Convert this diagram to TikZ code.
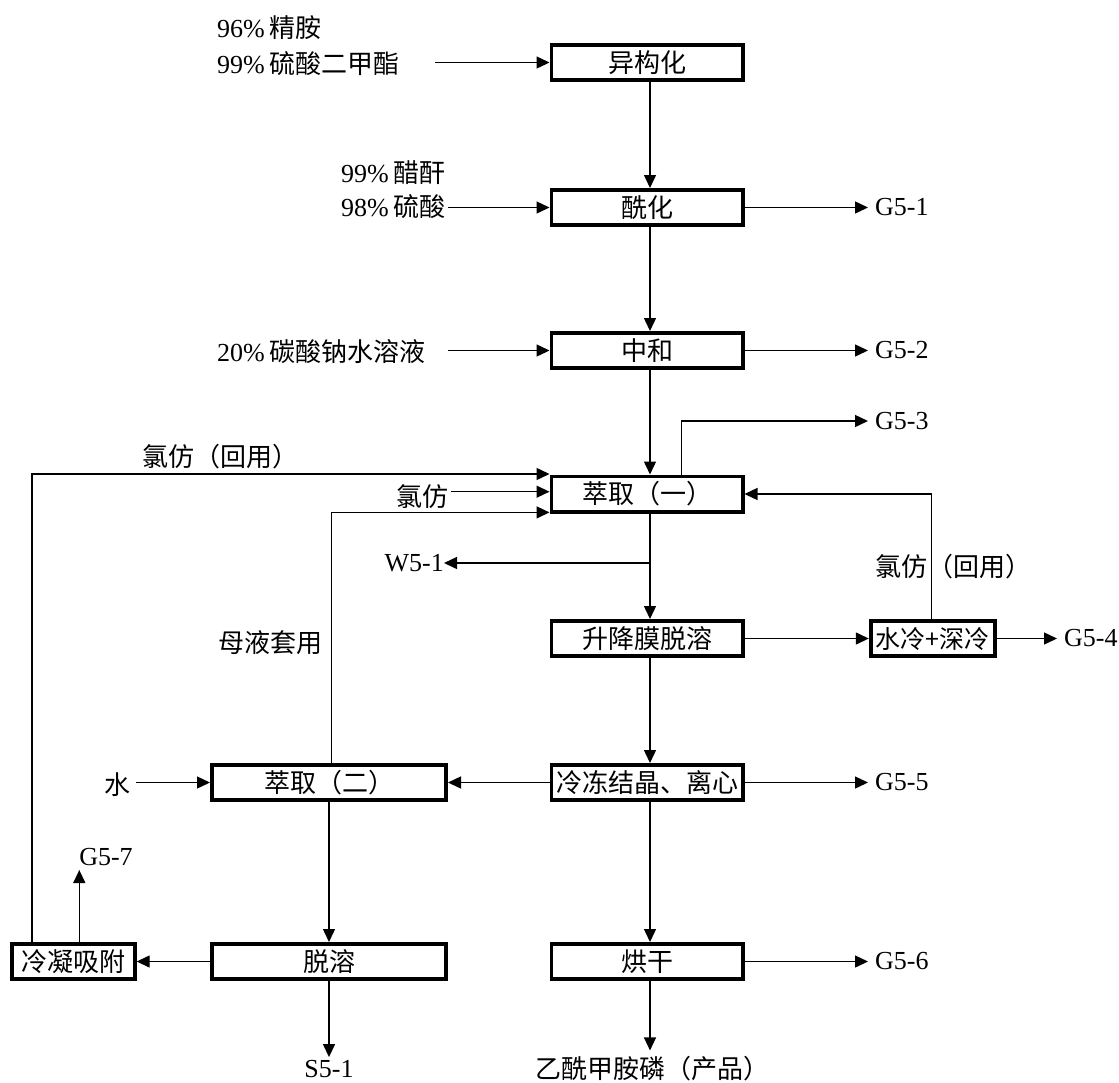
\documentclass[tikz,border=0pt]{standalone}
\usepackage{fontspec}
\setmainfont{Liberation Serif}
\newfontfamily\cjk{Noto Sans CJK SC}
\newcommand{\zhs}[1]{{\cjk\fontsize{26}{28}\selectfont #1}}
\usetikzlibrary{arrows.meta}
\begin{document}
\begin{tikzpicture}[x=1pt,y=-1pt,
 box/.style={draw,line width=3.8pt,minimum height=35.2pt,inner sep=0pt,font=\cjk\fontsize{26}{28}\selectfont},
 mainbox/.style={box,minimum width=191.2pt},
 lbl/.style={inner sep=0pt,font=\fontsize{26}{28}\selectfont},
 arr/.style={line width=1.4pt,-{Triangle[length=13pt,width=12pt]}},
 gout/.style={arr,shorten >=7pt}]
\useasboundingbox (0,0) rectangle (1119,1082);

% process boxes
\node[mainbox] (a) at (647,62.5) {异构化};
\node[mainbox] (b) at (647,207.5) {酰化};
\node[mainbox] (c) at (647,350.5) {中和};
\node[mainbox] (d) at (647,494) {萃取（一）};
\node[mainbox] (e) at (647,638.5) {升降膜脱溶};
\node[mainbox] (f) at (647,782.5) {冷冻结晶、离心};
\node[mainbox] (g) at (647,961.5) {烘干};
\node[box,minimum width=234.2pt] (h) at (329,782.5) {萃取（二）};
\node[box,minimum width=234.2pt] (i) at (329,961.5) {脱溶};
\node[box,minimum width=123.2pt] (j) at (73.2,961.5) {冷凝吸附};
\node[box,minimum width=124.2pt,font=\cjk\fontsize{25}{28}\selectfont] (k) at (932.8,638.5) {水冷+深冷};

% labels
\node[lbl,anchor=west] (t1) at (217,28) {96\%\,\zhs{精胺}};
\node[lbl,anchor=west] (t2) at (217,64) {99\%\,\zhs{硫酸二甲酯}};
\node[lbl,anchor=west] (t3) at (341,172.5) {99\%\,\zhs{醋酐}};
\node[lbl,anchor=west] (t4) at (341,207) {98\%\,\zhs{硫酸}};
\node[lbl,anchor=west] (t5) at (217,352) {20\%\,\zhs{碳酸钠水溶液}};
\node[lbl,anchor=west] (g1) at (875,207.5) {G5-1};
\node[lbl,anchor=west] (g2) at (875,350.5) {G5-2};
\node[lbl,anchor=west] (g3) at (875,421) {G5-3};
\node[lbl,anchor=west] (g4) at (1064,638.5) {G5-4};
\node[lbl,anchor=west] (g5) at (875,782.5) {G5-5};
\node[lbl,anchor=west] (g6) at (875,961.5) {G5-6};
\node[lbl] (g7) at (106,857) {G5-7};
\node[lbl,anchor=west] (r1) at (142,457) {\zhs{氯仿（回用）}};
\node[lbl,anchor=west] (r2) at (396,497) {\zhs{氯仿}};
\node[lbl,anchor=west] (r3) at (218,643) {\zhs{母液套用}};
\node[lbl,anchor=east] (w1) at (444,563) {W5-1};
\node[lbl,anchor=west] (r4) at (875,567) {\zhs{氯仿（回用）}};
\node[lbl,anchor=east] (sw) at (131,785) {\zhs{水}};
\node[lbl] (s1) at (329,1069) {S5-1};
\node[lbl] (p1) at (652,1069) {\zhs{乙酰甲胺磷（产品）}};

% helper coordinates
\coordinate (mx) at (650,0);
\coordinate (s2) at (435,0);
\coordinate (s4) at ([xshift=3pt]t4.east);
\coordinate (s5) at (447.5,0);
\coordinate (sr2) at ([xshift=3pt]r2.east);
\coordinate (xg3) at (681.5,0);
\coordinate (xl) at (32,0);
\coordinate (xm) at (331.4,0);
\coordinate (xsw) at (136.4,0);
\coordinate (tg7) at (79.3,870);
\coordinate (xr) at (931.5,0);
\coordinate (d1) at ([yshift=20pt]d.west);
\coordinate (d2) at ([yshift=2.3pt]d.west);
\coordinate (d3) at ([yshift=-18.4pt]d.west);

% main column
\draw[arr] (a.south -| mx) -- (b.north -| mx);
\draw[arr] (b.south -| mx) -- (c.north -| mx);
\draw[arr] (c.south -| mx) -- (d.north -| mx);
\draw[arr] (d.south -| mx) -- (e.north -| mx);
\draw[arr] (e.south -| mx) -- (f.north -| mx);
\draw[arr] (f.south -| mx) -- (g.north -| mx);
\draw[arr,shorten >=6pt] (g.south -| mx) -- (p1.north -| mx);
\draw[arr] (w1.east -| mx) -- (w1.east);

% inputs
\draw[arr] (a.west -| s2) -- (a.west);
\draw[arr] (b.west -| s4) -- (b.west);
\draw[arr] (c.west -| s5) -- (c.west);
\draw[arr] (d2 -| sr2) -- (d2);

% outputs
\draw[gout] (b.east) -- (b.east -| g1.west);
\draw[gout] (c.east) -- (c.east -| g2.west);
\draw[gout] (d.north -| xg3) |- (g3.west);
\draw[gout] (k.east) -- (k.east -| g4.west);
\draw[gout] (f.east) -- (f.east -| g5.west);
\draw[gout] (g.east) -- (g.east -| g6.west);

% recycle loops
\draw[arr] (j.north -| xl) |- (d1);
\draw[arr] (h.north -| xm) |- (d3);
\draw[arr] (k.north -| xr) |- (d.east);

% side flows
\draw[arr] (e.east) -- (k.west);
\draw[arr] (f.west) -- (h.east);
\draw[arr] (h.west -| xsw) -- (h.west);
\draw[arr] (h.south) -- (i.north);
\draw[arr] (i.west) -- (j.east);
\draw[arr] (j.north -| tg7) -- (tg7);
\draw[arr,shorten >=3pt] (i.south) -- (i.south |- s1.north);
\end{tikzpicture}
\end{document}
